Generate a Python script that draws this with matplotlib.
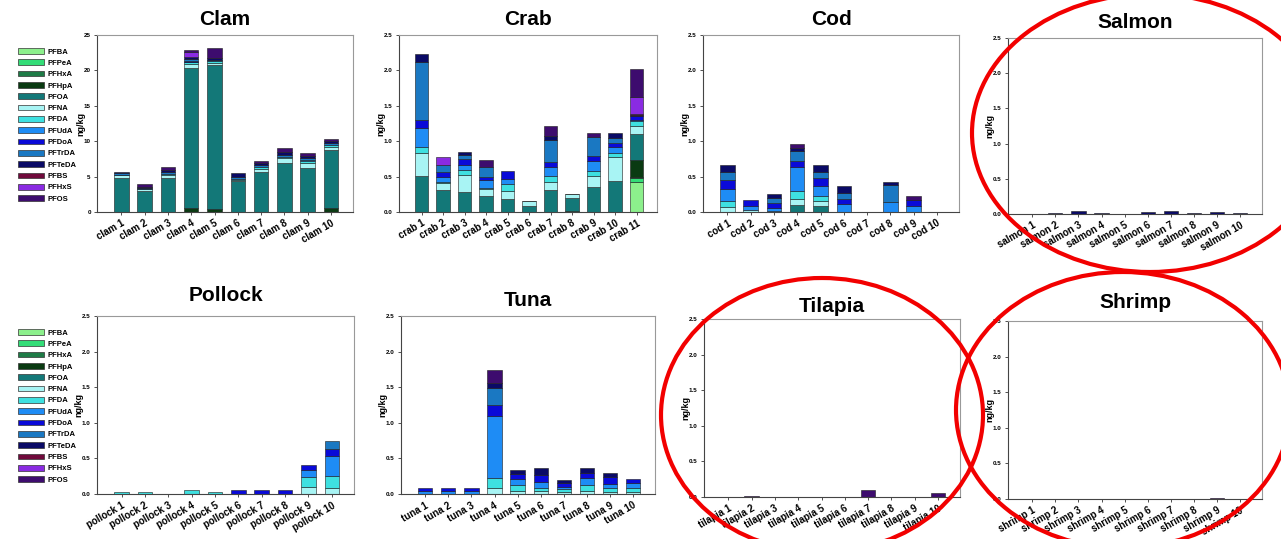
import numpy as np
import matplotlib
matplotlib.use("Agg")
import matplotlib.pyplot as plt
from matplotlib.patches import Patch, Ellipse

plt.rcParams['font.family'] = ['Liberation Sans', 'DejaVu Sans']

compounds = ["PFBA", "PFPeA", "PFHxA", "PFHpA", "PFOA", "PFNA", "PFDA", "PFUdA",
             "PFDoA", "PFTrDA", "PFTeDA", "PFBS", "PFHxS", "PFOS"]
colors = ["#8cf08c", "#33dd77", "#1e7b46", "#0a3a12", "#137878", "#a8f4f4", "#3ee0e0",
          "#1e8cf5", "#0a0ad8", "#1a78c2", "#0a0a66", "#700a3c", "#8a2be2", "#3d0c6e"]

# ng/kg per sample, only compounds that show up in each fish
clam = {
    "PFHpA": [0, 0, 0, 0.6, 0.4, 0, 0, 0, 0, 0.5],
    "PFOA": [4.85, 3.0, 4.8, 19.8, 20.3, 4.35, 5.6, 6.9, 6.25, 8.2],
    "PFNA": [0.35, 0.2, 0.4, 0.45, 0.4, 0.2, 0.5, 0.7, 0.7, 0.5],
    "PFDA": [0.05, 0.05, 0.2, 0.3, 0.2, 0.05, 0.2, 0.2, 0.2, 0.2],
    "PFUdA": [0, 0, 0, 0.1, 0, 0, 0, 0, 0.2, 0],
    "PFDoA": [0, 0, 0, 0.1, 0, 0, 0, 0, 0, 0],
    "PFTrDA": [0.2, 0.2, 0.2, 0.3, 0.2, 0.3, 0.3, 0.3, 0.3, 0.3],
    "PFTeDA": [0.25, 0.1, 0.3, 0.3, 0.3, 0.6, 0.3, 0.4, 0.3, 0.3],
    "PFHxS": [0, 0, 0, 0.6, 0, 0, 0, 0, 0, 0],
    "PFOS": [0, 0.4, 0.4, 0.35, 1.3, 0, 0.3, 0.6, 0.45, 0.3],
}
crab = {
    "PFBA": [0, 0, 0, 0, 0, 0, 0, 0.02, 0, 0, 0.42],
    "PFPeA": [0, 0, 0, 0, 0, 0, 0, 0, 0, 0, 0.06],
    "PFHxA": [0, 0, 0, 0, 0, 0, 0, 0, 0, 0, 0.01],
    "PFHpA": [0, 0, 0, 0, 0, 0, 0, 0, 0, 0, 0.24],
    "PFOA": [0.51, 0.31, 0.28, 0.22, 0.19, 0.09, 0.31, 0.18, 0.35, 0.44, 0.37],
    "PFNA": [0.33, 0.10, 0.24, 0.11, 0.11, 0.06, 0.12, 0.05, 0.16, 0.33, 0.11],
    "PFDA": [0.08, 0.02, 0.07, 0.01, 0.10, 0.01, 0.08, 0.01, 0.07, 0.07, 0.07],
    "PFUdA": [0.26, 0.07, 0.08, 0.11, 0.06, 0, 0.12, 0, 0.14, 0.08, 0.02],
    "PFDoA": [0.12, 0.06, 0.08, 0.05, 0.12, 0, 0.08, 0, 0.07, 0.05, 0.05],
    "PFTrDA": [0.82, 0.10, 0.06, 0.14, 0, 0, 0.30, 0, 0.27, 0.08, 0],
    "PFTeDA": [0.11, 0, 0.04, 0, 0, 0, 0.06, 0, 0, 0.07, 0.02],
    "PFBS": [0, 0, 0, 0, 0, 0, 0, 0, 0, 0, 0.02],
    "PFHxS": [0, 0.11, 0, 0, 0, 0, 0, 0, 0, 0, 0.24],
    "PFOS": [0, 0, 0, 0.09, 0, 0, 0.15, 0, 0.06, 0, 0.39],
}
cod = {
    "PFOA": [0, 0, 0, 0.10, 0.09, 0, 0, 0, 0, 0],
    "PFNA": [0.07, 0.03, 0.02, 0.09, 0.06, 0, 0, 0, 0, 0],
    "PFDA": [0.09, 0, 0, 0.11, 0.08, 0, 0, 0, 0, 0],
    "PFUdA": [0.16, 0.05, 0.04, 0.33, 0.14, 0.12, 0, 0.14, 0.09, 0],
    "PFDoA": [0.13, 0.09, 0.07, 0.09, 0.11, 0.07, 0, 0, 0.08, 0],
    "PFTrDA": [0.12, 0, 0.07, 0.14, 0.09, 0.08, 0, 0.24, 0, 0],
    "PFTeDA": [0.09, 0, 0.05, 0.05, 0.09, 0.10, 0, 0.05, 0, 0],
    "PFOS": [0, 0, 0, 0.05, 0, 0, 0, 0, 0.06, 0],
}
salmon = {
    "PFTeDA": [0, 0.02, 0.04, 0.02, 0, 0.035, 0.04, 0.015, 0.03, 0.02],
}
pollock = {
    "PFNA": [0, 0, 0, 0, 0, 0, 0, 0, 0.10, 0.09],
    "PFDA": [0.035, 0.03, 0, 0.05, 0.035, 0, 0, 0, 0.14, 0.16],
    "PFUdA": [0, 0, 0, 0, 0, 0, 0, 0, 0.10, 0.28],
    "PFDoA": [0, 0, 0, 0, 0, 0.055, 0.06, 0.055, 0.07, 0.10],
    "PFTrDA": [0, 0, 0, 0, 0, 0, 0, 0, 0, 0.11],
}
tuna = {
    "PFNA": [0, 0, 0, 0.08, 0.04, 0.04, 0.03, 0.04, 0.03, 0.03],
    "PFDA": [0, 0, 0, 0.15, 0.09, 0.05, 0.04, 0.09, 0.06, 0.05],
    "PFUdA": [0.04, 0.04, 0.04, 0.87, 0.08, 0.08, 0.03, 0.09, 0.05, 0.08],
    "PFDoA": [0.04, 0.04, 0.04, 0.15, 0.07, 0.10, 0.06, 0.07, 0.10, 0.05],
    "PFTrDA": [0, 0, 0, 0.24, 0, 0, 0, 0, 0, 0],
    "PFTeDA": [0, 0, 0, 0.07, 0.06, 0.09, 0.03, 0.07, 0.06, 0],
    "PFOS": [0, 0, 0, 0.18, 0, 0, 0, 0, 0, 0],
}
tilapia = {
    "PFOS": [0, 0.02, 0, 0, 0, 0, 0.10, 0, 0, 0.05],
}
shrimp = {
    "PFOS": [0, 0, 0, 0, 0, 0, 0, 0, 0.02, 0],
}

fig = plt.figure(figsize=(12.81, 5.39), dpi=100)
W, H = 1281, 539


def px_axes(l, t, r, b):
    return fig.add_axes([l / W, 1 - b / H, (r - l) / W, (b - t) / H])


panels = [
    ("Clam", "clam", clam, (97, 35, 353, 212), 25, 7),
    ("Crab", "crab", crab, (399, 35, 657, 212), 2.5, 7),
    ("Cod", "cod", cod, (703, 35, 959, 212), 2.5, 7),
    ("Salmon", "salmon", salmon, (1008, 38, 1262, 214), 2.5, 7),
    ("Pollock", "pollock", pollock, (97, 316, 354, 494), 2.5, 11),
    ("Tuna", "tuna", tuna, (401, 316, 655, 494), 2.5, 7),
    ("Tilapia", "tilapia", tilapia, (704, 319, 960, 497), 2.5, 5),
    ("Shrimp", "shrimp", shrimp, (1008, 321, 1262, 499), 2.5, 9),
]

for title, name, data, box, ymax, tpad in panels:
    ax = px_axes(*box)
    n = len(next(iter(data.values())))
    x = np.arange(n)
    bottom = np.zeros(n)
    for comp, col in zip(compounds, colors):
        if comp not in data:
            continue
        v = np.array(data[comp], dtype=float)
        ax.bar(x, v, bottom=bottom, width=0.62, color=col,
               edgecolor="#1a1a1a", linewidth=np.where(v > 0, 0.4, 0))
        bottom += v
    ax.set_xlim(-1.05, n - 0.05)
    ax.set_ylim(0, ymax)
    if ymax == 25:
        yt = np.arange(0, 26, 5)
        ax.set_yticks(yt)
        ax.set_yticklabels([f"{v:d}" for v in yt], fontsize=4.5, fontweight="bold")
    else:
        yt = np.arange(0, 2.51, 0.5)
        ax.set_yticks(yt)
        ax.set_yticklabels([f"{v:.1f}" for v in yt], fontsize=4.5, fontweight="bold")
    ax.set_xticks(x)
    ax.set_xticklabels([f"{name} {i + 1}" for i in x], rotation=30, ha="right",
                       rotation_mode="anchor", fontsize=7, fontweight="bold")
    ax.tick_params(axis="both", length=2.5, width=0.6, pad=2, colors="#333333",
                   labelcolor="black")
    ax.set_ylabel("ng/kg", fontsize=6.5, fontweight="bold", labelpad=-1)
    ax.set_title(title, fontsize=15, fontweight="bold", pad=tpad)
    for s in ["left", "bottom"]:
        ax.spines[s].set_color("#444444")
        ax.spines[s].set_linewidth(0.8)
    for s in ["top", "right"]:
        ax.spines[s].set_color("#999999")
        ax.spines[s].set_linewidth(0.8)

handles = [Patch(facecolor=c, edgecolor="#333333", linewidth=0.5) for c in colors]
for ytop in [1 - 48 / H, 1 - 329 / H]:
    fig.legend(handles, compounds, loc="upper left", bbox_to_anchor=(18 / W, ytop),
               frameon=False, prop={"size": 5.5, "weight": "bold"}, handlelength=3.4,
               handleheight=0.8, handletextpad=0.5, labelspacing=0.49,
               borderpad=0, borderaxespad=0)

# red circles drawn over the figure
for cx, cy, w, h in [(1150, 133, 356, 278), (822, 415, 322, 274), (1123, 410, 334, 276)]:
    fig.add_artist(Ellipse((cx / W, 1 - cy / H), w / W, h / H, transform=fig.transFigure,
                           fill=False, edgecolor="#f20000", linewidth=3, zorder=10))

fig.savefig("out.png", dpi=100, facecolor="white")
